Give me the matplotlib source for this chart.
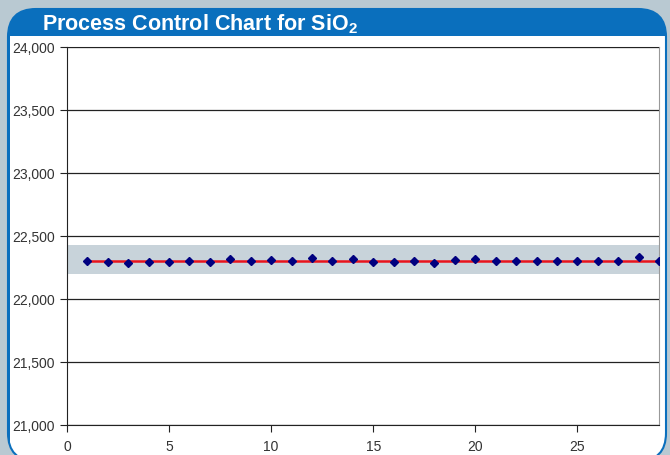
import matplotlib
import matplotlib.pyplot as plt
from matplotlib.patches import FancyBboxPatch, Rectangle
from matplotlib.ticker import FuncFormatter, MultipleLocator

matplotlib.use("Agg")

plt.rcParams["font.family"] = ["Liberation Sans", "DejaVu Sans"]
plt.rcParams["mathtext.fontset"] = "custom"
plt.rcParams["mathtext.bf"] = "Liberation Sans:bold"
plt.rcParams["mathtext.rm"] = "Liberation Sans"

title = r"Process Control Chart for SiO$_\mathbf{2}$"
samples = list(range(1, 30))
sio2 = [22305, 22290, 22282, 22290, 22290, 22305, 22290, 22320, 22298, 22308,
        22302, 22322, 22302, 22318, 22296, 22296, 22302, 22286, 22310, 22318,
        22300, 22300, 22302, 22300, 22300, 22305, 22300, 22330, 22300]
mean_line = 22300
band_low, band_high = 22200, 22432

W, H = 670, 456
fig = plt.figure(figsize=(W / 100, H / 100), dpi=100)
fig.patch.set_facecolor("#b9c9d2")

# background panel in pixel coordinates (y measured upward)
bg = fig.add_axes([0, 0, 1, 1], zorder=0)
bg.set_xlim(0, W)
bg.set_ylim(0, H)
bg.axis("off")
blue = "#0a6fbd"
box = dict(boxstyle="round,pad=0,rounding_size=28")
panel = FancyBboxPatch((8, -6), 658, H - 10 + 6, facecolor=blue, edgecolor="none", **box)
bg.add_patch(panel)
body = Rectangle((9.5, -10), 655, H - 37 + 10, facecolor="white", edgecolor="none")
bg.add_patch(body)
body.set_clip_path(panel)
bg.add_patch(FancyBboxPatch((8, -6), 658, H - 10 + 6, facecolor="none",
                            edgecolor=blue, lw=1.5, **box))
bg.text(42, H - 24, title, color="white", fontsize=15.5, fontweight="bold",
        va="center", ha="left")

ax = fig.add_axes([67 / W, 1 - 426 / H, (659 - 67) / W, (426 - 48) / H], zorder=1)
ax.set_facecolor("none")
ax.axhspan(band_low, band_high, color="#c8d3da", zorder=1, lw=0)
ax.axhline(mean_line, xmin=1 / 29, xmax=1, color="#e8141c", lw=1.8, zorder=3)
ax.plot(samples, sio2, ls="none", marker="D", ms=4.5, color="#00007f", zorder=4)

ax.set_xlim(0, 29)
ax.set_ylim(21000, 24000)
ax.xaxis.set_major_locator(MultipleLocator(5))
ax.yaxis.set_major_locator(MultipleLocator(500))
ax.yaxis.set_major_formatter(FuncFormatter(lambda v, p: f"{v:,.0f}"))
ax.grid(axis="y", color="#222222", lw=0.9, zorder=2)
ax.set_axisbelow(False)
for side in ["top", "right"]:
    ax.spines[side].set_color("#999999")
for side in ["left", "bottom"]:
    ax.spines[side].set_color("#222222")
ax.tick_params(direction="out", length=5, color="#222222", labelsize=10,
               labelcolor="#333333")
ax.tick_params(axis="x", pad=5)

fig.savefig("out.png", dpi=100, facecolor=fig.get_facecolor())
